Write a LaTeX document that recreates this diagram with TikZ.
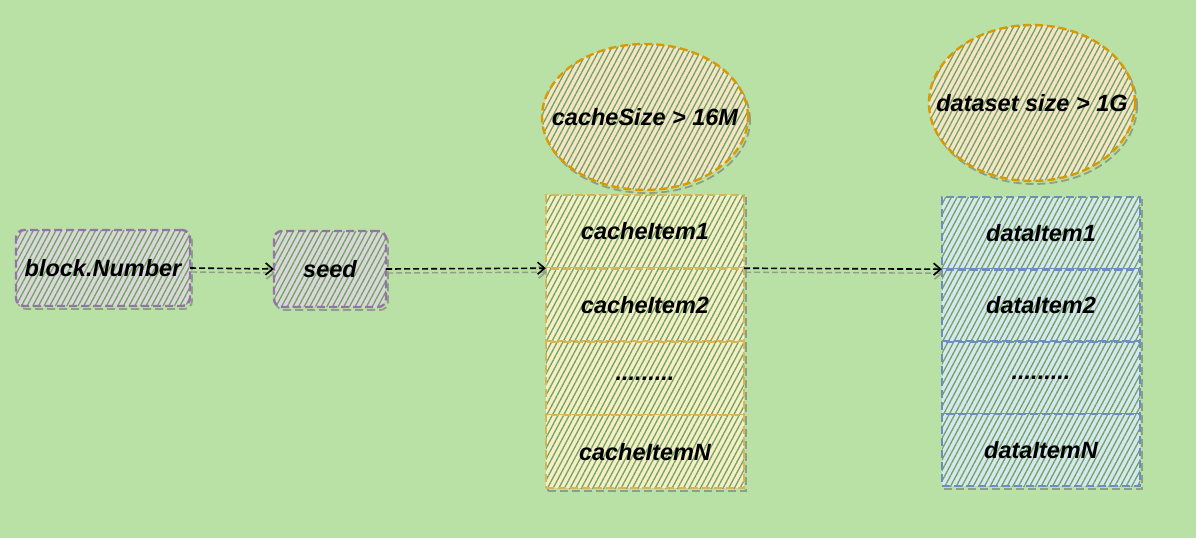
\documentclass[tikz,border=0pt]{standalone}
\usepackage{fontspec}
\setmainfont{Liberation Sans}
\usetikzlibrary{positioning,shapes.geometric,patterns.meta,arrows.meta}
\definecolor{bggreen}{HTML}{B9E0A5}
\definecolor{hatchgreen}{HTML}{74A263}
\definecolor{shadowgrey}{HTML}{8E9F88}
\definecolor{purplestroke}{HTML}{9673A6}
\definecolor{purplefill}{HTML}{E1D5E7}
\definecolor{yellowstroke}{HTML}{D6B656}
\definecolor{yellowfill}{HTML}{FFF2CC}
\definecolor{bluestroke}{HTML}{6C8EBF}
\definecolor{bluefill}{HTML}{DAE8FC}
\definecolor{orangestroke}{HTML}{D79B00}
\definecolor{orangefill}{HTML}{FFE6CC}
\tikzset{
  sketch/.style={
    preaction={draw=shadowgrey, line width=1.8pt, dash pattern=on 8pt off 4pt,
      transform canvas={shift={(2pt,-3pt)}}},
    postaction={pattern={Lines[angle=62,distance=5pt,line width=1.3pt]}, pattern color=hatchgreen},
    postaction={draw=#1, line width=2.4pt, dash pattern=on 8pt off 4pt}},
  blockbox/.style={sketch=purplestroke, fill=purplefill!80!bggreen, rounded corners=8pt,
    minimum height=76pt},
  cachecell/.style={sketch=yellowstroke, fill=yellowfill!85!bggreen,
    minimum width=198pt, minimum height=73pt},
  datacell/.style={sketch=bluestroke, fill=bluefill!85!bggreen,
    minimum width=198pt, minimum height=72pt},
  sizebubble/.style={ellipse, sketch=orangestroke, fill=orangefill!85!bggreen,
    inner xsep=-28pt, inner ysep=0pt},
  flow/.style={black, line width=1.6pt, dash pattern=on 6pt off 3pt,
    -{Straight Barb[length=7pt,width=12pt,line width=1.6pt]},
    preaction={draw=shadowgrey, line width=1.4pt, dash pattern=on 6pt off 3pt,
      transform canvas={shift={(1pt,-4pt)}}}}
}
\begin{document}
\begin{tikzpicture}[x=1pt,y=-1pt,
    every node/.style={font=\fontsize{23.5}{27}\selectfont\bfseries\itshape}]
  \fill[bggreen] (0,0) rectangle (1196,538);
  \useasboundingbox (0,0) rectangle (1196,538);

  % left chain
  \node[blockbox, minimum width=174pt] (block) at (103,268) {block.Number};
  \node[blockbox, minimum width=112pt] (seed) at (330,269) {seed};

  % cache column
  \node[sizebubble, minimum width=206pt, minimum height=146pt] (cachesize) at (645,117) {cacheSize > 16M};
  \node[cachecell] (cacheA) at (645,231.5) {cacheItem1};
  \node[cachecell, below=0pt of cacheA] (cacheB) {cacheItem2};
  \node[cachecell, below=0pt of cacheB] (cacheC) {.........};
  \node[cachecell, below=0pt of cacheC] (cacheN) {cacheItemN};

  % dataset column
  \node[sizebubble, minimum width=206pt, minimum height=156pt] (datasize) at (1032,103) {dataset size > 1G};
  \node[datacell] (dataA) at (1041,233) {dataItem1};
  \node[datacell, below=0pt of dataA] (dataB) {dataItem2};
  \node[datacell, below=0pt of dataB] (dataC) {.........};
  \node[datacell, below=0pt of dataC] (dataN) {dataItemN};

  \draw[flow] (block.east) -- (seed.west);
  \draw[flow] (seed.east) -- (cacheA.south west);
  \draw[flow] (cacheA.south east) -- (dataA.south west);
\end{tikzpicture}
\end{document}
